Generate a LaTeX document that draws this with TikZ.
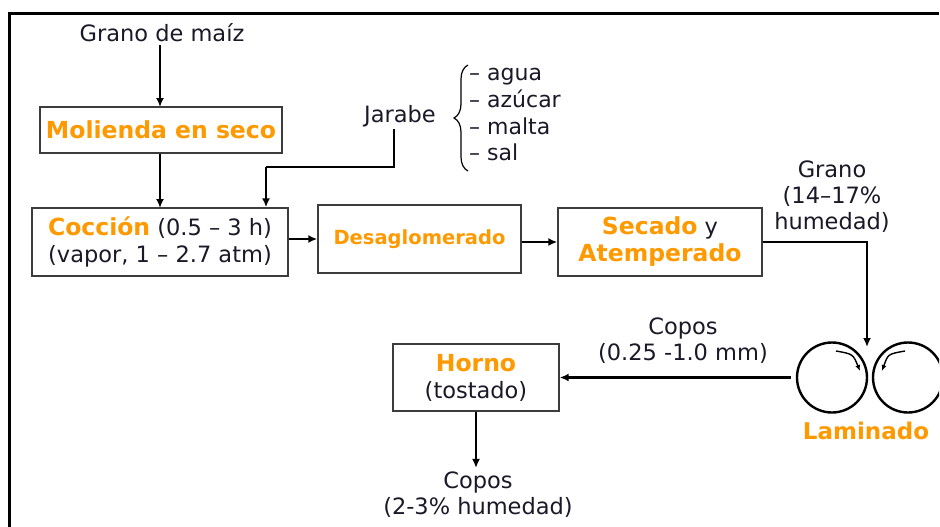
\documentclass[tikz,border=0pt]{standalone}
\usepackage{fontspec}
\setmainfont{DejaVu Sans}
\usetikzlibrary{arrows.meta,decorations.pathreplacing}
\definecolor{orng}{RGB}{255,153,0}
\definecolor{boxline}{RGB}{60,60,60}
\definecolor{txt}{RGB}{25,25,40}
\begin{document}
\begin{tikzpicture}[x=1pt,y=-1pt,
  proc/.style={draw=boxline, line width=1.4pt, rectangle, inner sep=0pt, align=center,
    text=txt, font=\fontsize{22.5}{27}\selectfont},
  lbl/.style={align=center, inner sep=0pt, text=txt, font=\fontsize{22.5}{26}\selectfont},
  item/.style={anchor=base west, inner sep=0pt, text=txt, font=\fontsize{22}{26}\selectfont},
  hd/.style={text=orng, font=\fontsize{23}{27}\selectfont\bfseries},
  flow/.style={line width=2.2pt, -{Latex[length=9pt,width=8pt]}},
  spin/.style={line width=1.4pt, -{Latex[length=6pt,width=5pt]}},
  roll/.style={circle, draw=black, line width=2.4pt, minimum size=70pt, inner sep=0pt},
  frame/.style={line width=3pt, black}
]
\useasboundingbox (0,0) rectangle (940,527);
\fill[white] (0,0) rectangle (940,527);
% outer frame
\draw[frame] (9.5,527) -- (9.5,14);
\draw[frame] (8,14) -- (939,14);

% nodes
\node[lbl] (grano) at (162,33) {Grano de maíz};
\node[proc, minimum width=242pt, minimum height=46pt] (mol) at (161,130)
  {{\fontsize{23.5}{27}\selectfont\bfseries\color{orng}Molienda en seco}};
\node[proc, minimum width=256pt, minimum height=68pt] (coc) at (160,242)
  {{\fontsize{23.5}{27}\selectfont\bfseries\color{orng}Cocción} (0.5 – 3 h)\\(vapor, 1 – 2.7 atm)};
\node[proc, minimum width=203pt, minimum height=68pt] (des) at (419.5,239)
  {{\fontsize{19.5}{24}\selectfont\bfseries\color{orng}Desaglomerado}};
\node[proc, minimum width=204pt, minimum height=68pt] (sec) at (660,242)
  {{\fontsize{23.5}{27}\selectfont\bfseries\color{orng}Secado} y\\{\fontsize{23.5}{27}\selectfont\bfseries\color{orng}Atemperado}};
\node[proc, minimum width=166pt, minimum height=67pt] (horno) at (476,377.5)
  {{\fontsize{23.5}{27}\selectfont\bfseries\color{orng}Horno}\\(tostado)};

\node[lbl] (jarabe) at (400,116) {Jarabe};
\node[item] (i1) at (469,81) {– agua};
\node[item] (i2) at (469,107.5) {– azúcar};
\node[item] (i3) at (469,134) {– malta};
\node[item] (i4) at (469,160.5) {– sal};
\draw[line width=1.2pt, decorate, decoration={brace, amplitude=14pt}] (468,171) -- (468,65);

\node[lbl] (grano2) at (832,197) {Grano\\(14–17\%\\humedad)};
\node[roll] (rollL) at (832,377.5) {};
\begin{scope}
  \clip (850,300) rectangle (939,460);
  \node[roll] (rollR) at (908,377.5) {};
\end{scope}
\node[inner sep=0pt, hd] (lam) at (866,431) {Laminado};
\node[lbl] (copos1) at (683,341) {Copos\\(0.25 -1.0 mm)};
\node[lbl] (copos2) at (478,495) {Copos\\(2-3\% humedad)};

\coordinate (j1) at (394,167);
\coordinate (j2) at (266,167);
\coordinate (nip) at (867,347);

% connectors
\draw[flow] (grano.south -| 160,0) ++(0,3) -- (160,107);
\draw[flow] (mol.south -| 160,0) -- (160,208);
\draw[line width=2.2pt] (jarabe.south -| j1) ++(0,2) -- (j1) -- (j2);
\draw[flow] (j2) -- (j2 |- coc.north);
\draw[flow] (coc.east |- des.west) -- (des.west);
\draw[flow] (des.east |- sec.west) -- (sec.west);
\draw[flow] (sec.east) -| (nip);
\draw[flow, shorten <=5pt] (rollL.west) -- (horno.east);
\draw[flow, shorten >=4pt] (horno.south) -- (copos2.north -| horno.south);

% roller rotation arrows
\draw[spin] (836,351) .. controls (853,354) .. (860,371);
\draw[spin] (905,351) .. controls (888,354) .. (882,371);
\end{tikzpicture}
\end{document}
